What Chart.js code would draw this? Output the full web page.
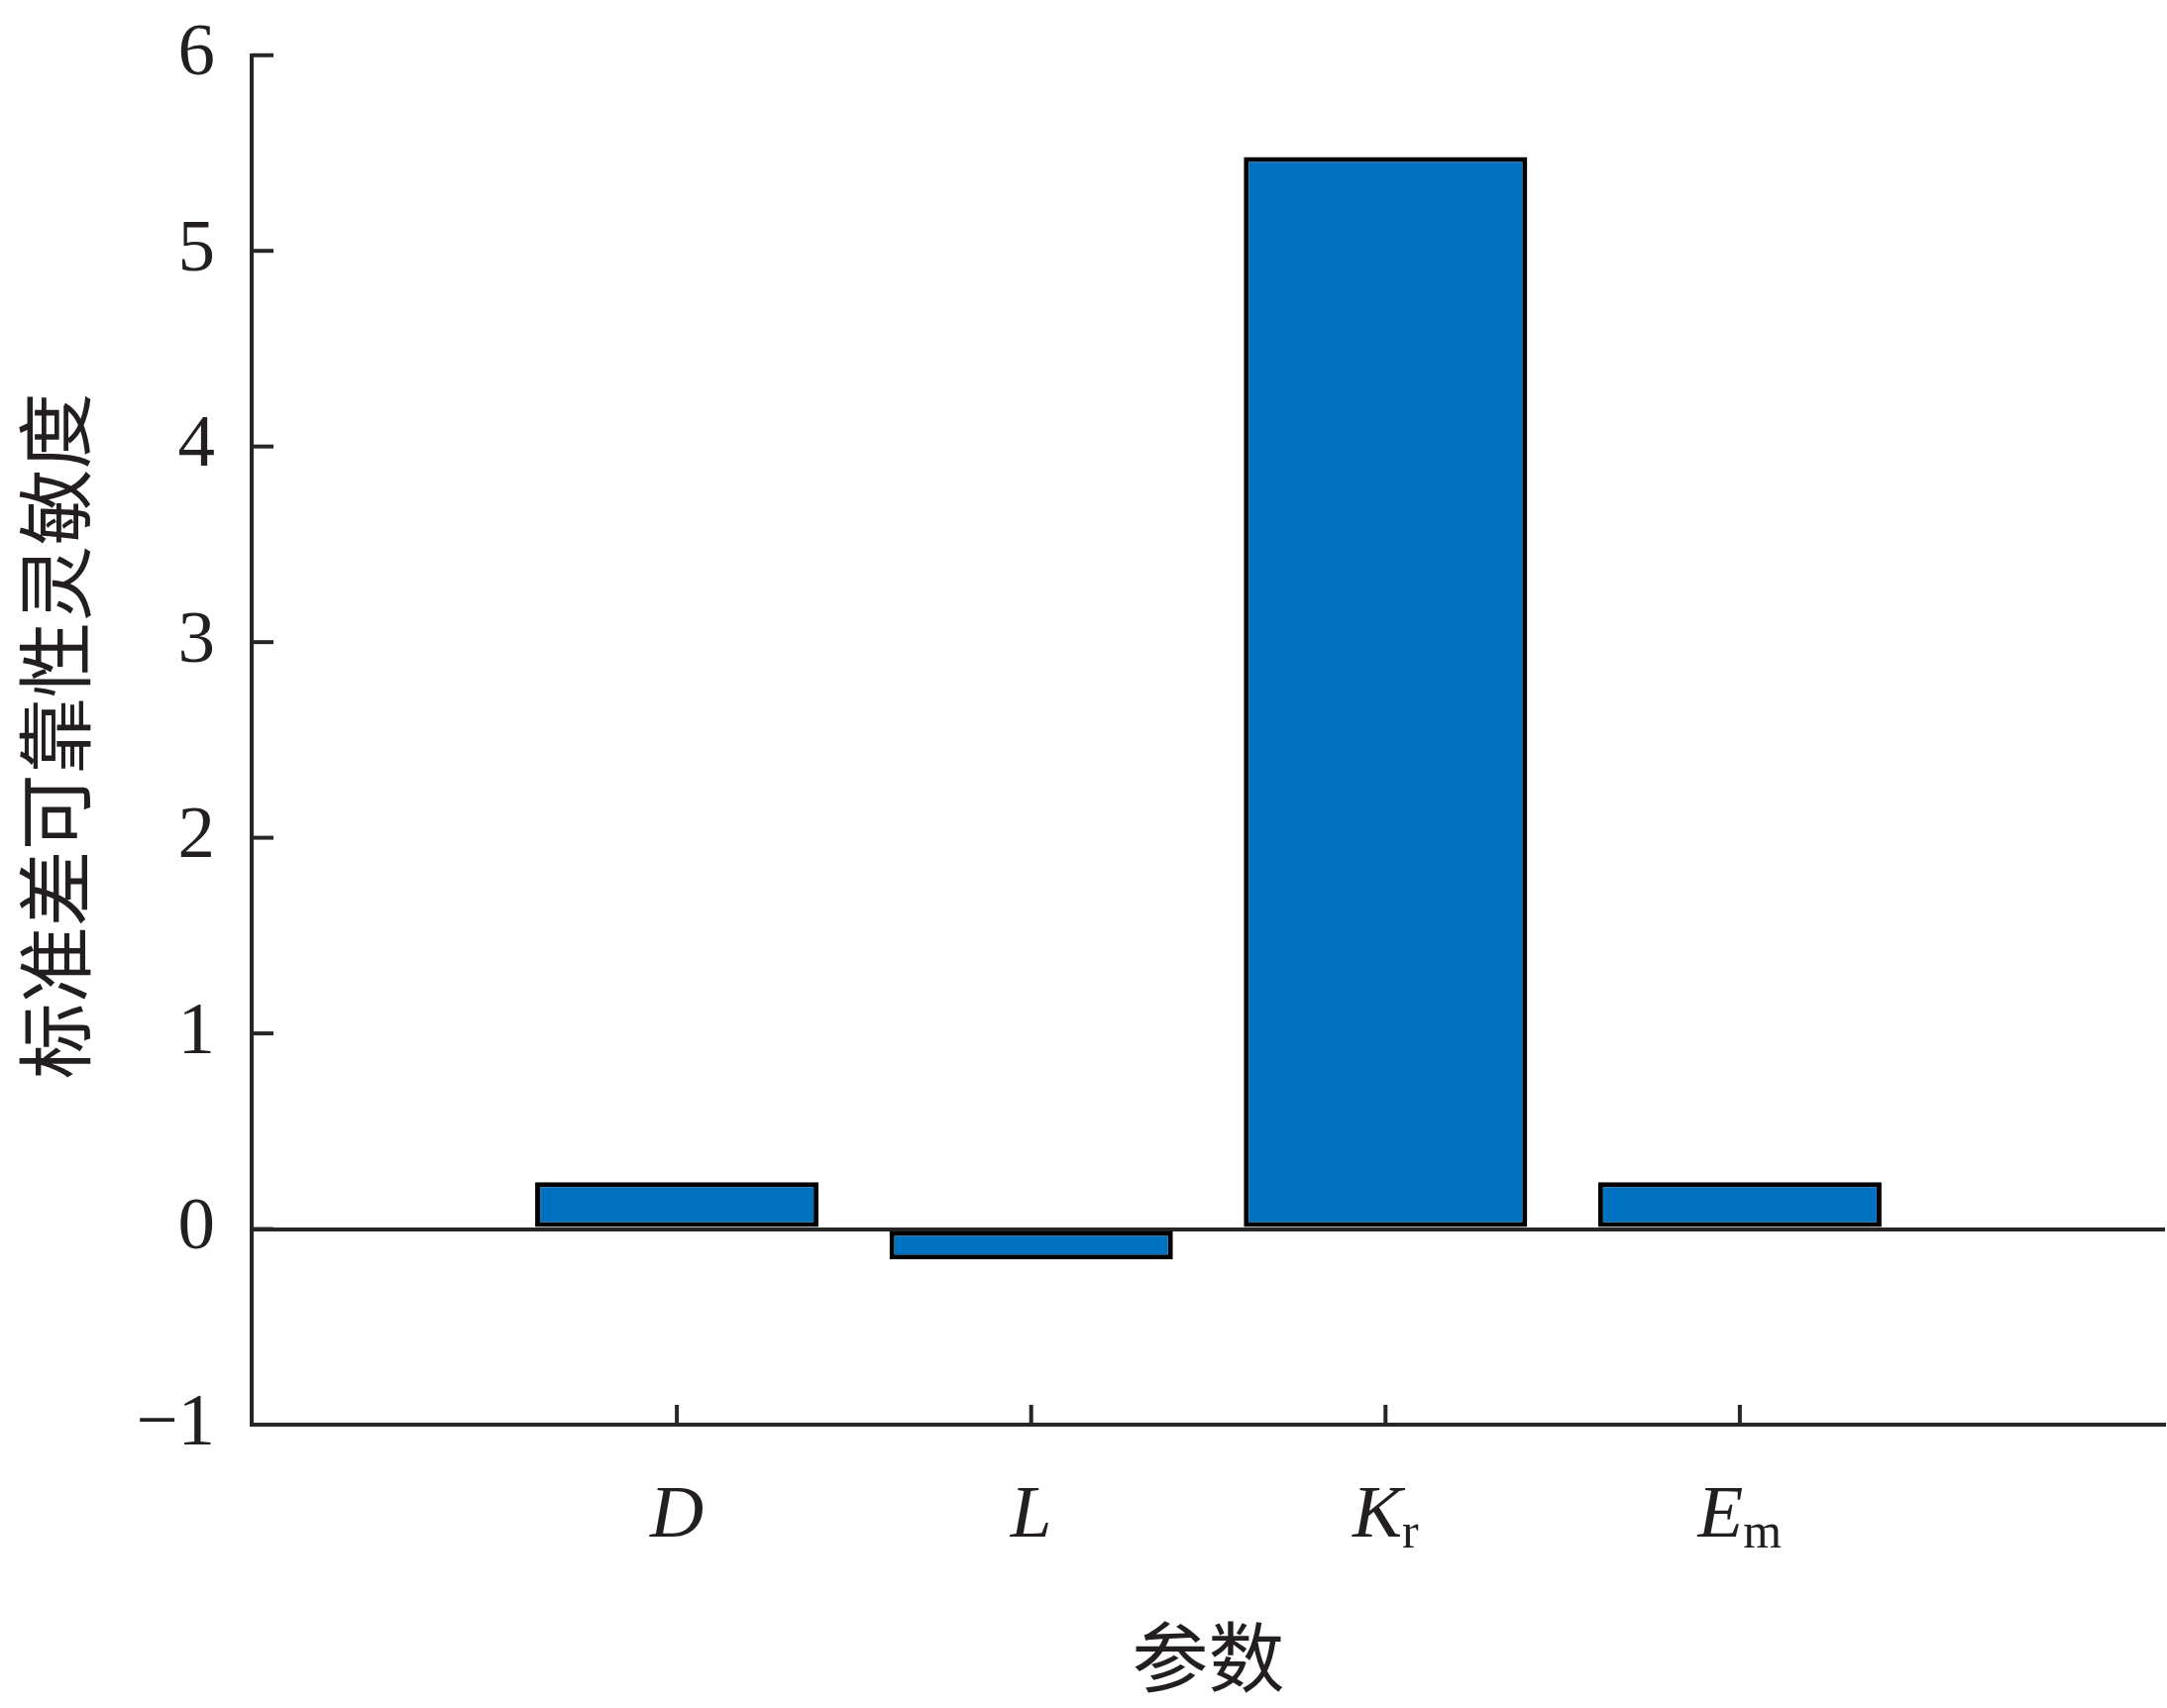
<!DOCTYPE html>
<html><head><meta charset="utf-8">
<script src="https://cdn.jsdelivr.net/npm/chart.js@4.4.0/dist/chart.umd.min.js"></script>
<style>html,body{margin:0;padding:0;background:#fff;} canvas{display:block;}</style>
</head><body>
<canvas id="c" width="2187" height="1724"></canvas>
<script>
// ---- data ----
const categories = ['D', 'L', 'Kr', 'Em'];
const labelMain = ['D', 'L', 'K', 'E'];
const labelSub = ['', '', 'r', 'm'];
const values = [0.24, -0.155, 5.48, 0.24];
const yTicks = [-1, 0, 1, 2, 3, 4, 5, 6];
const xRange = [-1.2, 4.2];
const xTitle = '参数';
const yTitle = '标准差可靠性灵敏度';

// ---- style ----
const axisColor = '#262626';
const textColor = '#231f20';
const barColor = '#0070c0';
const serif = '"Liberation Serif", "Times New Roman", serif';
const cjk = '"Noto Sans CJK SC", sans-serif';

const overlay = {
  id: 'overlay',
  afterDraw(chart) {
    const ctx = chart.ctx, xs = chart.scales.x, ys = chart.scales.y, a = chart.chartArea;
    ctx.save();
    ctx.strokeStyle = axisColor; ctx.lineWidth = 4; ctx.lineCap = 'butt';
    // inward y ticks
    yTicks.forEach(v => {
      const y = ys.getPixelForValue(v);
      ctx.beginPath(); ctx.moveTo(a.left, y); ctx.lineTo(a.left + 22, y); ctx.stroke();
    });
    // inward x ticks
    categories.forEach((c, i) => {
      const x = xs.getPixelForValue(i);
      ctx.beginPath(); ctx.moveTo(x, a.bottom); ctx.lineTo(x, a.bottom - 20); ctx.stroke();
    });
    // x tick labels: italic symbol + upright subscript
    ctx.fillStyle = textColor; ctx.textBaseline = 'alphabetic'; ctx.textAlign = 'left';
    const baseY = a.bottom + 113;
    categories.forEach((c, i) => {
      const x = xs.getPixelForValue(i);
      ctx.font = 'italic 75px ' + serif;
      const w1 = ctx.measureText(labelMain[i]).width;
      ctx.font = '50px ' + serif;
      const w2 = labelSub[i] ? ctx.measureText(labelSub[i]).width : 0;
      const start = x - (w1 + w2) / 2;
      ctx.font = 'italic 75px ' + serif;
      ctx.fillText(labelMain[i], start, baseY);
      if (labelSub[i]) {
        ctx.font = '50px ' + serif;
        ctx.fillText(labelSub[i], start + w1, baseY + 11);
      }
    });
    // y-axis title
    ctx.translate(56, (a.top + a.bottom) / 2 - 4);
    ctx.rotate(-Math.PI / 2);
    ctx.font = '77px ' + cjk;
    ctx.textAlign = 'center'; ctx.textBaseline = 'middle';
    ctx.fillText(yTitle, 0, 0);
    ctx.restore();
  }
};

function draw() {
  new Chart(document.getElementById('c'), {
    type: 'bar',
    data: {
      datasets: [{
        data: categories.map((c, i) => ({ x: i, y: values[i] })),
        backgroundColor: barColor,
        borderColor: '#000000',
        borderWidth: 5,
        borderSkipped: false,
        categoryPercentage: 1.0,
        barPercentage: 0.8
      }]
    },
    options: {
      responsive: false,
      animation: false,
      devicePixelRatio: 1,
      layout: { padding: { top: 54, right: 2, left: 0, bottom: 0 } },
      plugins: { legend: { display: false }, tooltip: { enabled: false } },
      scales: {
        x: {
          type: 'linear',
          offset: false,
          min: xRange[0], max: xRange[1],
          afterBuildTicks: s => { s.ticks = categories.map((c, i) => ({ value: i })); },
          afterFit: s => { s.height = 286; },
          ticks: { display: false },
          grid: { display: false, drawTicks: false, offset: false },
          border: { display: true, color: axisColor, width: 4 },
          title: {
            display: true, text: xTitle, color: textColor,
            font: { family: cjk, size: 77 },
            padding: { top: 0, bottom: 5 }
          }
        },
        y: {
          min: yTicks[0], max: yTicks[yTicks.length - 1],
          afterBuildTicks: s => { s.ticks = yTicks.map(v => ({ value: v })); },
          afterFit: s => { s.width = 254; },
          ticks: {
            color: textColor, padding: 37,
            font: { family: serif, size: 75, lineHeight: 0.5 },
            callback: v => (v < 0 ? '\u2212' + Math.abs(v) : String(v))
          },
          grid: {
            drawTicks: false,
            lineWidth: 4,
            color: c => (c.tick && c.tick.value === 0 ? axisColor : 'rgba(0,0,0,0)')
          },
          border: { display: true, color: axisColor, width: 4 }
        }
      }
    },
    plugins: [overlay]
  });
}

Promise.all([
  document.fonts.load('75px "Liberation Serif"'),
  document.fonts.load('italic 75px "Liberation Serif"'),
  document.fonts.load('77px "Noto Sans CJK SC"', '参数标准差可靠性灵敏度')
]).then(draw, draw);
</script>
</body></html>
